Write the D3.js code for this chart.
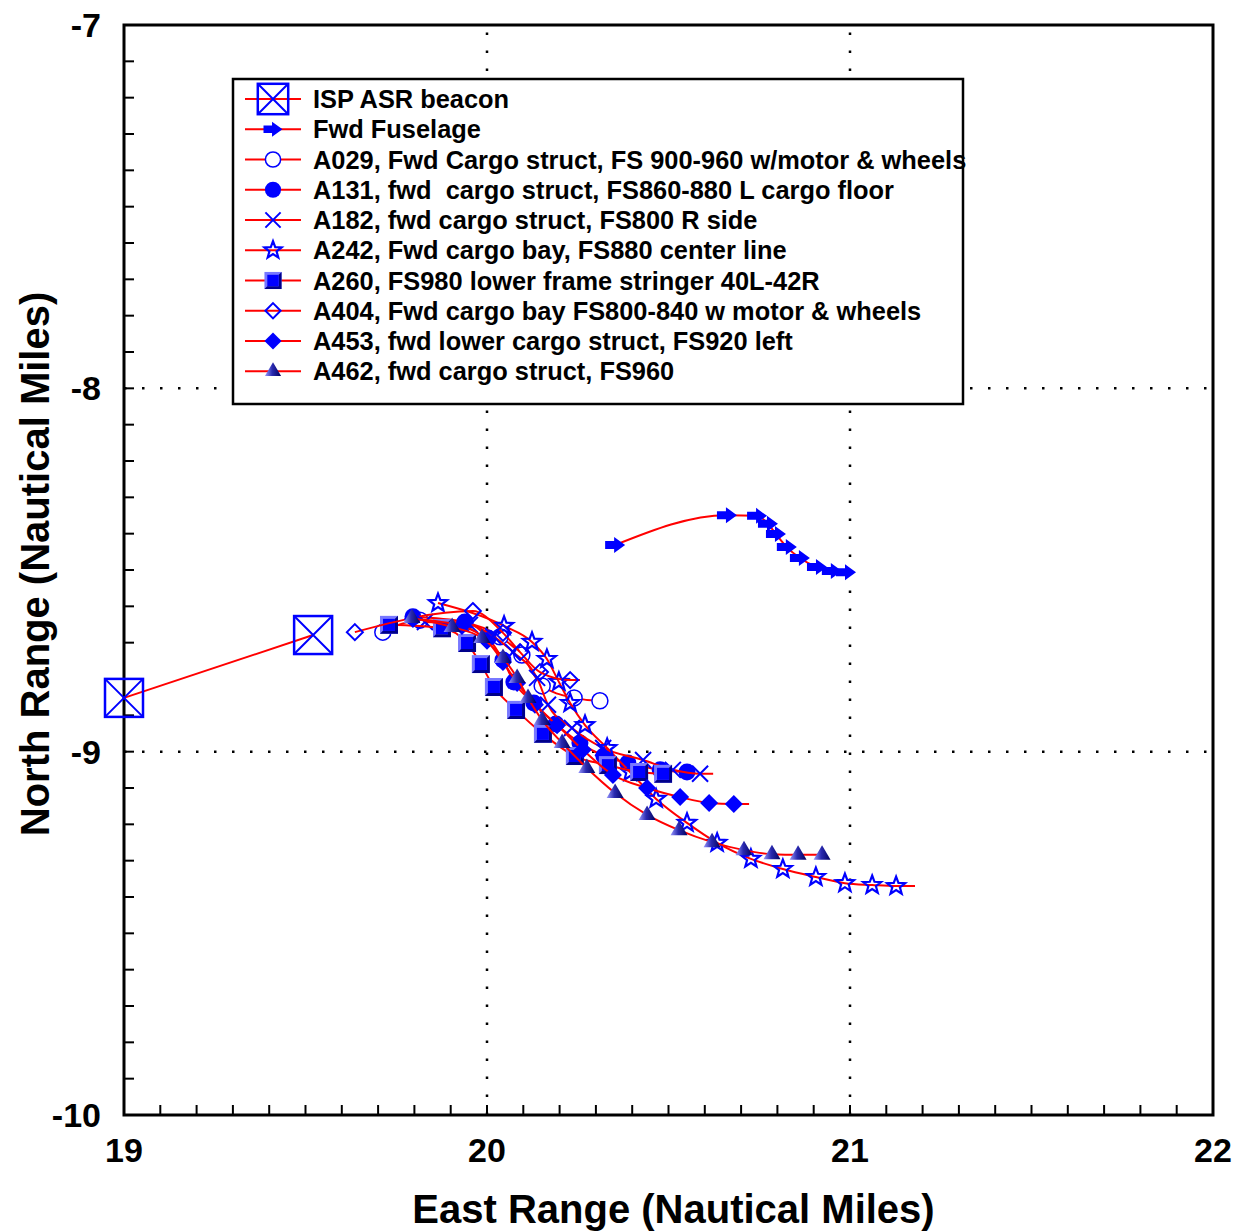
<!DOCTYPE html>
<html><head><meta charset="utf-8">
<script src="https://cdn.jsdelivr.net/npm/d3@7"></script>
<style>body{margin:0;background:#fff}svg{display:block}text{font-family:"Liberation Sans",Arial,sans-serif;font-weight:bold;white-space:pre}</style>
</head><body><svg id="c" width="1237" height="1231"></svg>
<script>
// ---- data ----
const seriesNames = ["ISP ASR beacon","Fwd Fuselage","A029, Fwd Cargo struct, FS 900-960 w/motor & wheels","A131, fwd  cargo struct, FS860-880 L cargo floor","A182, fwd cargo struct, FS800 R side","A242, Fwd cargo bay, FS880 center line","A260, FS980 lower frame stringer 40L-42R","A404, Fwd cargo bay FS800-840 w motor & wheels","A453, fwd lower cargo struct, FS920 left","A462, fwd cargo struct, FS960"];
const markerTypes = ["boxx","arrow","ocircle","circle","x","star","square","odiamond","diamond","triangle"];
const beaconX = [19.0, 19.521];
const beaconY = [-8.852, -8.679];
const fwdX = [20.353, 20.661, 20.744, 20.774, 20.796, 20.826, 20.862, 20.909, 20.950, 20.989];
const fwdY = [-8.431, -8.349, -8.351, -8.373, -8.401, -8.437, -8.467, -8.492, -8.503, -8.506];
const a029X = [19.713, 19.815, 19.939, 20.036, 20.096, 20.152, 20.240, 20.311];
const a029Y = [-8.671, -8.638, -8.646, -8.684, -8.734, -8.819, -8.852, -8.860];
const a131X = [19.796, 19.939, 20.003, 20.044, 20.074, 20.129, 20.190, 20.256, 20.322, 20.388, 20.477, 20.551];
const a131Y = [-8.629, -8.643, -8.687, -8.748, -8.808, -8.866, -8.924, -8.976, -9.012, -9.031, -9.050, -9.056];
const a182X = [19.829, 19.953, 20.017, 20.072, 20.138, 20.168, 20.234, 20.320, 20.430, 20.512, 20.587];
const a182Y = [-8.643, -8.651, -8.682, -8.726, -8.797, -8.871, -8.935, -8.990, -9.023, -9.050, -9.061];
const a242X = [19.865, 20.047, 20.124, 20.165, 20.198, 20.229, 20.270, 20.331, 20.394, 20.466, 20.551, 20.634, 20.727, 20.815, 20.906, 20.986, 21.061, 21.127];
const a242Y = [-8.591, -8.654, -8.698, -8.745, -8.808, -8.866, -8.927, -8.990, -9.056, -9.130, -9.196, -9.251, -9.295, -9.323, -9.345, -9.362, -9.367, -9.370];
const a260X = [19.730, 19.876, 19.945, 19.983, 20.019, 20.080, 20.154, 20.242, 20.333, 20.419, 20.485];
const a260Y = [-8.651, -8.660, -8.701, -8.759, -8.822, -8.885, -8.951, -9.012, -9.037, -9.056, -9.061];
const a404X = [19.636, 19.961, 20.044, 20.091, 20.146, 20.229];
const a404Y = [-8.671, -8.613, -8.673, -8.726, -8.781, -8.803];
const a453X = [19.796, 19.931, 20.000, 20.044, 20.083, 20.132, 20.193, 20.264, 20.347, 20.441, 20.532, 20.612, 20.680];
const a453Y = [-8.635, -8.654, -8.695, -8.753, -8.811, -8.871, -8.927, -8.995, -9.064, -9.100, -9.125, -9.141, -9.144];
const a462X = [19.793, 19.904, 19.986, 20.044, 20.083, 20.113, 20.152, 20.207, 20.275, 20.353, 20.441, 20.529, 20.620, 20.708, 20.785, 20.857, 20.923];
const a462Y = [-8.632, -8.657, -8.687, -8.742, -8.797, -8.852, -8.913, -8.976, -9.045, -9.114, -9.174, -9.216, -9.249, -9.271, -9.282, -9.284, -9.284];
const lineEndX = [null, null, 20.331, 20.565, 20.623, 21.179, null, 20.256, 20.722, null];
const xTicks = [19, 20, 21, 22];
const yTicks = [-7, -8, -9, -10];
const xTitle = "East Range (Nautical Miles)";
const yTitle = "North Range (Nautical Miles)";

const seriesX = [beaconX, fwdX, a029X, a131X, a182X, a242X, a260X, a404X, a453X, a462X];
const seriesY = [beaconY, fwdY, a029Y, a131Y, a182Y, a242Y, a260Y, a404Y, a453Y, a462Y];

// ---- chart ----
const svg = d3.select("#c");
const L = 124, R = 1213, T = 25, B = 1115;
const x = d3.scaleLinear().domain([19, 22]).range([L, R]);
const y = d3.scaleLinear().domain([-10, -7]).range([B, T]);
const BLUE = "#0000ff";

const defs = svg.append("defs");
const gr = defs.append("linearGradient").attr("id","triG").attr("x1",0).attr("x2",1).attr("y1",0).attr("y2",0);
gr.append("stop").attr("offset",0).attr("stop-color","#9a9aff");
gr.append("stop").attr("offset",0.45).attr("stop-color","#2a2ab0");
gr.append("stop").attr("offset",1).attr("stop-color","#000060");

// gridlines
const grid = svg.append("g").attr("stroke","#000").attr("stroke-width",2.5).attr("stroke-dasharray","2.5,15.5");
[20, 21].forEach(v => grid.append("line").attr("x1",x(v)).attr("x2",x(v)).attr("y1",B).attr("y2",T));
[-8, -9].forEach(v => grid.append("line").attr("y1",y(v)).attr("y2",y(v)).attr("x1",L).attr("x2",R));

// minor ticks
const ticks = svg.append("g").attr("stroke","#000").attr("stroke-width",2);
d3.range(1, 30).forEach(i => { const xv = x(19 + i/10); ticks.append("line").attr("x1",xv).attr("x2",xv).attr("y1",B).attr("y2",B-10); });
d3.range(1, 30).forEach(i => { const yv = y(-10 + i/10); ticks.append("line").attr("y1",yv).attr("y2",yv).attr("x1",L).attr("x2",L+10); });

// frame
svg.append("rect").attr("x",L).attr("y",T).attr("width",R-L).attr("height",B-T).attr("fill","none").attr("stroke","#000").attr("stroke-width",3);

// tick labels
svg.append("g").selectAll("text").data(xTicks).join("text")
  .attr("x", d => x(d)).attr("y", 1162).attr("text-anchor","middle").attr("font-size",34).text(d => d);
svg.append("g").selectAll("text").data(yTicks).join("text")
  .attr("x", 101).attr("y", d => y(d) + 12).attr("text-anchor","end").attr("font-size",34).text(d => d);

// titles
svg.append("text").attr("x", (L+R)/2 + 5).attr("y", 1223).attr("text-anchor","middle").attr("font-size",40).text(xTitle);
svg.append("text").attr("transform","translate(49,564) rotate(-90)").attr("text-anchor","middle").attr("font-size",40).text(yTitle);

// markers
function marker(g, type, s) {
  const k = s || 1;
  switch (type) {
    case "boxx": {
      const h = 19 * k;
      g.append("rect").attr("x",-h).attr("y",-h).attr("width",2*h).attr("height",2*h).attr("fill","none").attr("stroke",BLUE).attr("stroke-width",2.5);
      g.append("path").attr("d",`M${-h},${-h}L${h},${h}M${h},${-h}L${-h},${h}`).attr("stroke",BLUE).attr("stroke-width",2);
      break; }
    case "arrow":
      g.append("path").attr("d",`M${-10*k},${-4*k}L${-1*k},${-4*k}L${-1*k},${-8*k}L${10*k},0L${-1*k},${8*k}L${-1*k},${4*k}L${-10*k},${4*k}Z`).attr("fill",BLUE);
      break;
    case "ocircle":
      g.append("circle").attr("r",8*k).attr("fill","#fff").attr("stroke",BLUE).attr("stroke-width",1.5);
      break;
    case "circle":
      g.append("circle").attr("r",8.5*k).attr("fill",BLUE);
      break;
    case "x":
      g.append("path").attr("d",`M${-8*k},${-8*k}L${8*k},${8*k}M${8*k},${-8*k}L${-8*k},${8*k}`).attr("stroke",BLUE).attr("stroke-width",2);
      break;
    case "star": {
      const pts = d3.range(10).map(i => { const r = (i % 2 ? 4 : 9.5) * k; const a = -Math.PI/2 + i*Math.PI/5; return [r*Math.cos(a), r*Math.sin(a)]; });
      g.append("path").attr("d","M"+pts.map(p=>p.join(",")).join("L")+"Z").attr("fill","none").attr("stroke",BLUE).attr("stroke-width",2.2);
      break; }
    case "square": {
      const h = 9 * k, i = 6 * k;
      g.append("rect").attr("x",-h).attr("y",-h).attr("width",2*h).attr("height",2*h).attr("fill","#7878ff");
      g.append("path").attr("d",`M${h},${-h}L${h},${h}L${-h},${h}L${-i},${i}L${i},${i}L${i},${-i}Z`).attr("fill","#00008a");
      g.append("rect").attr("x",-i).attr("y",-i).attr("width",2*i).attr("height",2*i).attr("fill",BLUE);
      break; }
    case "odiamond":
      g.append("path").attr("d",`M0,${-8*k}L${8*k},0L0,${8*k}L${-8*k},0Z`).attr("fill","none").attr("stroke",BLUE).attr("stroke-width",2);
      break;
    case "diamond":
      g.append("path").attr("d",`M0,${-9*k}L${9*k},0L0,${9*k}L${-9*k},0Z`).attr("fill",BLUE);
      break;
    case "triangle":
      g.append("path").attr("d",`M0,${-9.5*k}L${8.5*k},${5*k}L${-8.5*k},${5*k}Z`).attr("fill","url(#triG)");
      break;
  }
}

const line = d3.line().x(d => x(d[0])).y(d => y(d[1])).curve(d3.curveMonotoneX);
const lineStraight = d3.line().x(d => x(d[0])).y(d => y(d[1]));
const plot = svg.append("g");
seriesNames.forEach((name, si) => {
  const pts = seriesX[si].map((v, j) => [v, seriesY[si][j]]);
  const lpts = pts.slice();
  if (lineEndX[si] != null) lpts.push([lineEndX[si], pts[pts.length-1][1]]);
  plot.append("path").attr("d", (si === 0 ? lineStraight : line)(lpts)).attr("fill","none").attr("stroke","#ff0000").attr("stroke-width",2);
  pts.forEach(p => {
    const g = plot.append("g").attr("transform",`translate(${x(p[0])},${y(p[1])})`);
    marker(g, markerTypes[si], 1);
  });
});

// legend
const lg = svg.append("g");
lg.append("rect").attr("x",233).attr("y",79).attr("width",730).attr("height",325).attr("fill","#fff").attr("stroke","#000").attr("stroke-width",2.5);
seriesNames.forEach((name, i) => {
  const cy = 99 + i * 30.25;
  lg.append("line").attr("x1",245).attr("x2",301).attr("y1",cy).attr("y2",cy).attr("stroke","#ff0000").attr("stroke-width",2);
  const g = lg.append("g").attr("transform",`translate(273,${cy})`);
  marker(g, markerTypes[i], i === 0 ? 0.8 : 0.95);
  lg.append("text").attr("x",313).attr("y",cy+9).attr("font-size",25.4).text(name);
});
</script></body></html>
